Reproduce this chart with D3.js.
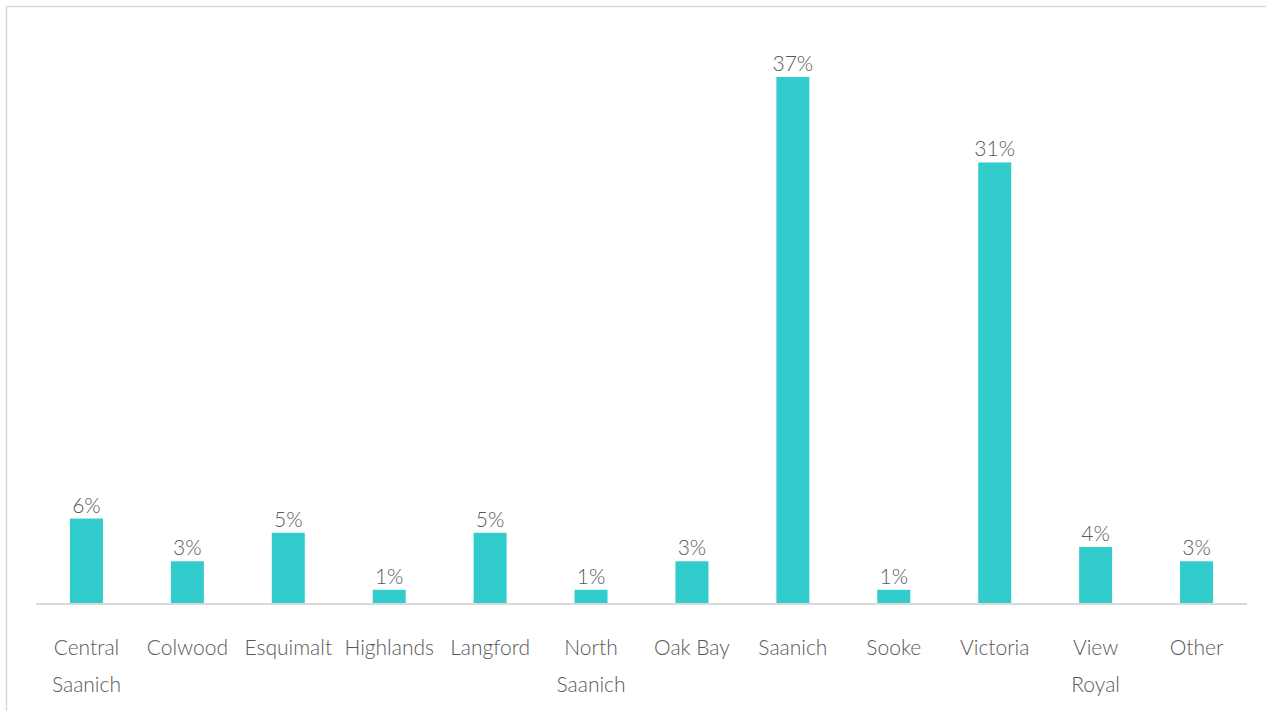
<!DOCTYPE html>
<html>
<head>
<meta charset="utf-8">
<script src="https://cdn.jsdelivr.net/npm/d3@7"></script>
<style>
  html, body { margin: 0; padding: 0; background: #fff; }
  svg { display: block; }
  text { font-family: Lato, "Open Sans", sans-serif; font-weight: 300; fill: #595959; }
</style>
</head>
<body>
<svg id="chart" width="1266" height="711"></svg>
<script>
// Share of responses by municipality (%)
const categories = [
  ["Central", "Saanich"], ["Colwood"], ["Esquimalt"], ["Highlands"], ["Langford"],
  ["North", "Saanich"], ["Oak Bay"], ["Saanich"], ["Sooke"], ["Victoria"],
  ["View", "Royal"], ["Other"]
];
const values = [6, 3, 5, 1, 5, 1, 3, 37, 1, 31, 4, 3];

const W = 1266, H = 711;
const margin = { left: 36, right: 19, top: 77, bottom: 107 };
const baseY = H - margin.bottom;

const svg = d3.select("#chart");

// outer frame
svg.append("rect")
  .attr("x", 6.5).attr("y", 6.5)
  .attr("width", W + 20).attr("height", H + 20)
  .attr("fill", "none").attr("stroke", "#d9d9d9").attr("stroke-width", 1.5);

const keys = categories.map(d => d.join(" "));

const x = d3.scaleBand()
  .domain(keys)
  .range([margin.left, W - margin.right])
  .paddingInner(0.673)
  .paddingOuter(0.3365);

const y = d3.scaleLinear()
  .domain([0, 37])
  .range([baseY, margin.top]);

// bars
svg.append("g").selectAll("rect")
  .data(values)
  .join("rect")
  .attr("x", (d, i) => x(keys[i]))
  .attr("y", d => y(d))
  .attr("width", x.bandwidth())
  .attr("height", d => baseY - y(d))
  .attr("fill", "#33cccc");

// value labels
svg.append("g").selectAll("text")
  .data(values)
  .join("text")
  .attr("x", (d, i) => x(keys[i]) + x.bandwidth() / 2)
  .attr("y", d => y(d) - 6)
  .attr("text-anchor", "middle")
  .attr("font-size", 21)
  .text(d => d + "%");

// category axis
const axis = svg.append("g")
  .attr("transform", `translate(0,${baseY})`)
  .call(d3.axisBottom(x).tickSize(0).tickFormat(""));
axis.select(".domain")
  .attr("stroke", "#d9d9d9").attr("stroke-width", 2)
  .attr("d", `M${margin.left},0H${W - margin.right}`);

axis.selectAll(".tick").each(function(k, i) {
  const t = d3.select(this).append("text")
    .attr("text-anchor", "middle")
    .attr("font-size", 21)
    .attr("y", 51);
  categories[i].forEach((line, j) => {
    t.append("tspan").attr("x", 0).attr("dy", j === 0 ? 0 : 37).text(line);
  });
});
</script>
</body>
</html>
